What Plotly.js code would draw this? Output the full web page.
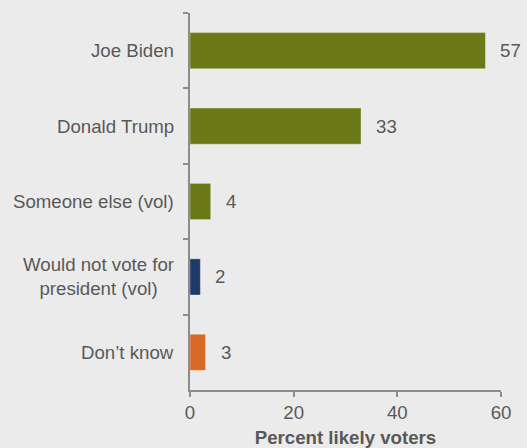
<!DOCTYPE html>
<html><head><meta charset="utf-8">
<script src="https://cdn.plot.ly/plotly-3.0.1.min.js"></script>
<style>html,body{margin:0;padding:0;background:#ebebeb;}</style>
</head><body>
<div id="chart" style="width:527px;height:448px;"></div>
<script>
const categories = ["Joe Biden", "Donald Trump", "Someone else (vol)", "Would not vote for<br>president (vol)", "Don’t know"];
const values = [57, 33, 4, 2, 3];
const barColors = ["#6b7a17", "#6b7a17", "#6b7a17", "#1d3a69", "#d86a28"];
const xTicks = [0, 20, 40, 60];
const xTitle = "Percent likely voters";

const textColor = "#595959";
const font = {family: "Arial, Liberation Sans, sans-serif", size: 18.67, color: textColor};

const trace = {
  type: "bar", orientation: "h",
  x: values, y: categories,
  marker: {color: barColors, line: {color: "rgba(255,255,255,0.35)", width: 1}},
  width: 0.48,
  hoverinfo: "none"
};

const annotations = [];
categories.forEach((c, i) => {
  annotations.push({x: values[i], y: c, xref: "x", yref: "y", text: String(values[i]),
    showarrow: false, xanchor: "left", xshift: 13, font: font});
  annotations.push({x: 0, y: c, xref: "paper", yref: "y", text: c, align: "center",
    showarrow: false, xanchor: "right", xshift: -14, font: font});
});

const layout = {
  width: 527, height: 448,
  margin: {l: 190, r: 26, t: 13, b: 58},
  paper_bgcolor: "#ebebeb", plot_bgcolor: "#ebebeb",
  font: font,
  showlegend: false,
  xaxis: {
    range: [0, 60], tickvals: xTicks, ticktext: xTicks.map(String),
    showgrid: false, zeroline: false,
    showline: true, linecolor: "#8c8c8c", linewidth: 2,
    ticks: "outside", ticklen: 5, tickcolor: "#8c8c8c", tickwidth: 2,
    tickfont: font,
    title: {text: "<b>" + xTitle + "</b>", font: font, standoff: 16},
    automargin: false, fixedrange: true
  },
  yaxis: {
    type: "category", categoryorder: "array", categoryarray: categories,
    autorange: "reversed",
    showticklabels: false,
    tickson: "boundaries",
    showgrid: false, zeroline: false,
    showline: true, linecolor: "#8c8c8c", linewidth: 2,
    ticks: "outside", ticklen: 5, tickcolor: "#8c8c8c", tickwidth: 2,
    automargin: false, fixedrange: true
  },
  annotations: annotations
};

Plotly.newPlot("chart", [trace], layout, {displayModeBar: false, staticPlot: true});
</script>
</body></html>
